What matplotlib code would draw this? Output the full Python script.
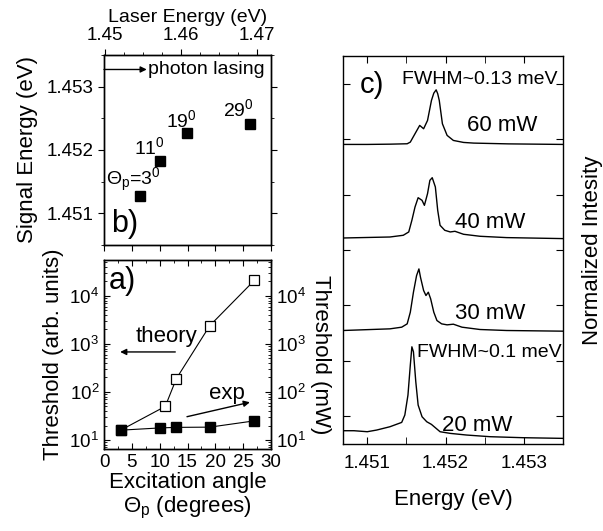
import numpy as np
import matplotlib
matplotlib.use("Agg")
import matplotlib.pyplot as plt
from matplotlib.ticker import FormatStrFormatter, MultipleLocator, LogLocator, NullFormatter

plt.rcParams["font.family"] = ["Liberation Sans", "DejaVu Sans"]
plt.rcParams["mathtext.fontset"] = "custom"
plt.rcParams["mathtext.rm"] = "Liberation Sans"
plt.rcParams["mathtext.it"] = "Liberation Sans:italic"
plt.rcParams["axes.linewidth"] = 1.0

# ---- panel b: signal energy vs laser energy --------------------------------
LASER_E = [1.4546, 1.4572, 1.4608, 1.4690]
SIGNAL_E = [1.45128, 1.45182, 1.45226, 1.45241]
ANGLE_LABELS = [r"$\Theta_{\rm p}$=3$^0$", "11$^0$", "19$^0$", "29$^0$"]
LABEL_X = [1.4537, 1.4559, 1.4600, 1.4675]
LABEL_Y = [1.45152, 1.45204, 1.45247, 1.45265]
LASING_E = 1.45327

# ---- panel a: threshold vs excitation angle --------------------------------
THEORY_ANGLE = [3, 11, 13, 19, 27]
THEORY_THR = [16, 50, 190, 2400, 21000]
EXP_ANGLE = [3, 10, 13, 19, 27]
EXP_THR = [16, 17.8, 18.3, 18.5, 25]

# ---- panel c: normalised spectra (stacked) ---------------------------------
SPEC_60_E = [1.45069, 1.45100, 1.45130, 1.45151, 1.45155, 1.45161, 1.45167,
             1.45172, 1.45177, 1.45182, 1.45185, 1.45188, 1.45190, 1.45192,
             1.45196, 1.45202, 1.45210, 1.45223, 1.45236, 1.45280, 1.45350]
SPEC_60_I = [5.405, 5.405, 5.410, 5.417, 5.447, 5.598, 5.748,
             5.688, 5.838, 6.198, 6.330, 6.390, 6.320, 6.198,
             5.778, 5.568, 5.477, 5.441, 5.429, 5.415, 5.405]
SPEC_40_E = [1.45069, 1.45129, 1.45146, 1.45153, 1.45157, 1.45161, 1.45165,
             1.45170, 1.45173, 1.45177, 1.45180, 1.45183, 1.45187, 1.45190,
             1.45193, 1.45199, 1.45206, 1.45212, 1.45223, 1.45244, 1.45278,
             1.45350]
SPEC_40_I = [3.717, 3.735, 3.766, 3.826, 4.036, 4.276, 4.444,
             4.396, 4.306, 4.517, 4.757, 4.805, 4.637, 4.216,
             3.946, 3.856, 3.826, 3.838, 3.784, 3.748, 3.724,
             3.706]
SPEC_30_E = [1.45069, 1.45129, 1.45144, 1.45151, 1.45155, 1.45159, 1.45163,
             1.45166, 1.45168, 1.45172, 1.45175, 1.45178, 1.45181, 1.45185,
             1.45189, 1.45195, 1.45202, 1.45210, 1.45221, 1.45244, 1.45278,
             1.45350]
SPEC_30_I = [2.048, 2.078, 2.108, 2.168, 2.378, 2.739, 3.039,
             3.159, 3.009, 2.769, 2.679, 2.739, 2.619, 2.378,
             2.228, 2.168, 2.150, 2.162, 2.108, 2.066, 2.048,
             2.036]
SPEC_20_E = [1.45069, 1.45083, 1.45100, 1.45112, 1.45129, 1.45144, 1.45148,
             1.45152, 1.45155, 1.45157, 1.45159, 1.45162, 1.45165, 1.45170,
             1.45176, 1.45182, 1.45189, 1.45193, 1.45206, 1.45227, 1.45257,
             1.45299, 1.45350]
SPEC_20_I = [0.240, 0.240, 0.222, 0.252, 0.312, 0.390, 0.523,
             0.883, 1.423, 1.754, 1.664, 1.123, 0.703, 0.492,
             0.402, 0.354, 0.270, 0.222, 0.192, 0.162, 0.132,
             0.114, 0.102]
POWER_LABELS = ["60 mW", "40 mW", "30 mW", "20 mW"]
POWER_X = [1.45227, 1.45212, 1.45212, 1.45195]
POWER_Y = [5.75, 4.00, 2.36, 0.34]

TICK_FS = 13.5
LABEL_FS = 16

fig = plt.figure(figsize=(6.03, 5.31), dpi=100)

# ============================ panel b =======================================
ax_b = fig.add_axes([0.1725, 0.5386, 0.277, 0.358])
# angle ticks on the bottom edge (shared scale with panel a)
ax_b2 = ax_b.twiny()
ax_b2.set_xlim(0, 30)
ax_b2.xaxis.set_major_locator(MultipleLocator(5))
ax_b2.tick_params(axis="x", direction="out", length=4, labelbottom=False,
                  labeltop=False, top=False, bottom=True)

ax_b.plot(LASER_E, SIGNAL_E, "s", color="black", ms=7, mec="black")
ax_b.set_xlim(1.4499, 1.4718)
ax_b.set_ylim(1.4505, 1.4535)
ax_b.xaxis.set_label_position("top")
ax_b.set_xlabel("Laser Energy (eV)", fontsize=14, labelpad=4)
ax_b.set_ylabel("Signal Energy (eV)", fontsize=LABEL_FS, labelpad=6)
ax_b.xaxis.set_major_locator(MultipleLocator(0.01))
ax_b.xaxis.set_minor_locator(MultipleLocator(0.0025))
ax_b.xaxis.set_major_formatter(FormatStrFormatter("%.2f"))
ax_b.yaxis.set_major_locator(MultipleLocator(0.001))
ax_b.yaxis.set_minor_locator(MultipleLocator(0.0005))
ax_b.yaxis.set_major_formatter(FormatStrFormatter("%.3f"))
ax_b.tick_params(which="both", direction="out", top=True, bottom=False,
                 labeltop=True, labelbottom=False, right=True,
                 labelsize=TICK_FS)
ax_b.tick_params(which="major", length=4)
ax_b.tick_params(which="minor", length=2.5)
for lab, x, y in zip(ANGLE_LABELS, LABEL_X, LABEL_Y):
    ax_b.text(x, y, lab, fontsize=14, ha="center", va="center")
ax_b.annotate("", xy=(1.4555, LASING_E), xytext=(1.4499, LASING_E),
              arrowprops=dict(arrowstyle="-|>", lw=1, color="black",
                              shrinkA=0, shrinkB=0, mutation_scale=9))
ax_b.text(1.4557, LASING_E, "photon lasing", fontsize=14, va="center",
          ha="left")
ax_b.text(0.04, 0.03, "b)", transform=ax_b.transAxes, fontsize=22,
          ha="left", va="bottom")

# ============================ panel a =======================================
ax_a = fig.add_axes([0.1725, 0.1545, 0.277, 0.356])
ax_a.set_yscale("log")
ax_a.plot(THEORY_ANGLE, THEORY_THR, "s-", color="black", mfc="white",
          mec="black", ms=6.5, lw=0.8, mew=0.9)
ax_a.plot(EXP_ANGLE, EXP_THR, "s-", color="black", ms=7, lw=0.8)
ax_a.set_xlim(0, 30)
ax_a.set_ylim(6.5, 5.6e4)
ax_a.xaxis.set_major_locator(MultipleLocator(5))
ax_a.xaxis.set_minor_locator(MultipleLocator(2.5))
ax_a.yaxis.set_major_locator(LogLocator(base=10, numticks=10))
ax_a.yaxis.set_minor_locator(LogLocator(base=10, subs=np.arange(2, 10),
                                        numticks=10))
ax_a.yaxis.set_minor_formatter(NullFormatter())
ax_a.tick_params(which="both", direction="in", top=True, labelsize=TICK_FS)
ax_a.tick_params(which="major", length=4)
ax_a.tick_params(which="minor", length=2)
ax_a.set_ylabel("Threshold (arb. units)", fontsize=LABEL_FS, labelpad=4)
ax_a.set_xlabel("Excitation angle", fontsize=LABEL_FS, labelpad=1)
ax_a.text(0.5, -0.31, r"$\Theta_{\rm p}$ (degrees)", transform=ax_a.transAxes,
          fontsize=LABEL_FS, ha="center", va="center")
ax_a.text(0.03, 0.97, "a)", transform=ax_a.transAxes, fontsize=22,
          ha="left", va="top")
ax_a.text(11.3, 1400, "theory", fontsize=LABEL_FS, ha="center", va="center")
ax_a.annotate("", xy=(2.9, 680), xytext=(12.8, 680),
              arrowprops=dict(arrowstyle="-|>", lw=1, color="black",
                              shrinkA=0, shrinkB=0, mutation_scale=9))
ax_a.text(22, 95, "exp", fontsize=LABEL_FS, ha="center", va="center")
ax_a.annotate("", xy=(26.2, 61), xytext=(14.9, 30.5),
              arrowprops=dict(arrowstyle="-|>", lw=1, color="black",
                              shrinkA=0, shrinkB=0, mutation_scale=9))

ax_a2 = ax_a.twinx()
ax_a2.set_yscale("log")
ax_a2.set_ylim(ax_a.get_ylim())
ax_a2.yaxis.set_major_locator(LogLocator(base=10, numticks=10))
ax_a2.yaxis.set_minor_locator(LogLocator(base=10, subs=np.arange(2, 10),
                                         numticks=10))
ax_a2.yaxis.set_minor_formatter(NullFormatter())
ax_a2.tick_params(which="both", direction="in", labelsize=TICK_FS)
ax_a2.tick_params(which="major", length=4)
ax_a2.tick_params(which="minor", length=2)
ax_a2.set_ylabel("Threshold (mW)", fontsize=LABEL_FS, rotation=270,
                 labelpad=18)

# ============================ panel c =======================================
ax_c = fig.add_axes([0.5688, 0.1638, 0.3648, 0.7307])
for E, I in [(SPEC_60_E, SPEC_60_I), (SPEC_40_E, SPEC_40_I),
             (SPEC_30_E, SPEC_30_I), (SPEC_20_E, SPEC_20_I)]:
    ax_c.plot(E, I, color="black", lw=1.0)
ax_c.set_xlim(1.45069, 1.4535)
ax_c.set_ylim(0, 7)
ax_c.xaxis.set_major_locator(MultipleLocator(0.001))
ax_c.xaxis.set_minor_locator(MultipleLocator(0.0005))
ax_c.xaxis.set_major_formatter(FormatStrFormatter("%.3f"))
ax_c.set_yticks(np.arange(0.5, 7, 1.0))
ax_c.tick_params(axis="y", labelleft=False)
ax_c.tick_params(which="both", direction="in", top=True, right=True,
                 labelsize=TICK_FS, pad=8)
ax_c.tick_params(which="major", length=5)
ax_c.tick_params(which="minor", length=5)
ax_c.set_xlabel("Energy (eV)", fontsize=LABEL_FS, labelpad=12)
ax_c.yaxis.set_label_position("right")
ax_c.set_ylabel("Normalized Intesity", fontsize=LABEL_FS, rotation=90,
                labelpad=14)
ax_c.text(1.45091, 6.47, "c)", fontsize=21, ha="left", va="center")
ax_c.text(1.45144, 6.58, "FWHM~0.13 meV", fontsize=14, ha="left",
          va="center")
ax_c.text(1.45164, 1.66, "FWHM~0.1 meV", fontsize=14, ha="left",
          va="center")
for lab, x, y in zip(POWER_LABELS, POWER_X, POWER_Y):
    ax_c.text(x, y, lab, fontsize=16, ha="left", va="center")

fig.savefig("out.png", dpi=100)
